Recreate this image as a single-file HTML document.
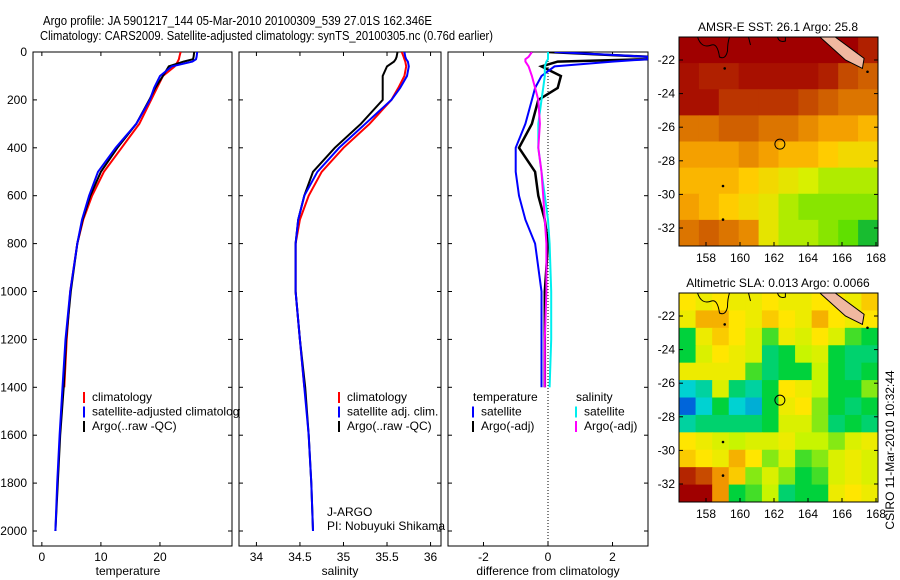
<!DOCTYPE html>
<html><head><meta charset="utf-8"><style>
body{margin:0;background:#fff;}
svg{display:block;font-family:"Liberation Sans",sans-serif;font-size:12px;}
</style></head><body>
<svg id="fig" width="900" height="580" viewBox="0 0 900 580">
<defs>
<clipPath id="c1"><rect x="33" y="52" width="199" height="494"/></clipPath>
<clipPath id="c2"><rect x="239" y="52" width="202" height="494"/></clipPath>
<clipPath id="c3"><rect x="448" y="52" width="200" height="494"/></clipPath>
<clipPath id="m1"><rect x="679" y="37" width="199" height="209"/></clipPath>
<clipPath id="m2"><rect x="679" y="293" width="199" height="209"/></clipPath>
<clipPath id="lg1"><rect x="0" y="0" width="240" height="580"/></clipPath>
<clipPath id="lg2"><rect x="0" y="0" width="447" height="580"/></clipPath>
</defs>
<text x="43" y="25" font-size="13" textLength="389" lengthAdjust="spacingAndGlyphs">Argo profile: JA 5901217_144 05-Mar-2010 20100309_539 27.01S 162.346E</text>
<text x="40" y="40" font-size="13" textLength="453" lengthAdjust="spacingAndGlyphs">Climatology: CARS2009. Satellite-adjusted climatology: synTS_20100305.nc (0.76d earlier)</text>
<g id="g1"></g>
<g id="g2"></g>
<g id="g3"></g>
<g id="gm1"></g>
<g id="gm2"></g>
<text x="128" y="575" text-anchor="middle">temperature</text>
<text x="340" y="575" text-anchor="middle">salinity</text>
<text x="548" y="575" text-anchor="middle">difference from climatology</text>
<text x="778" y="31" text-anchor="middle">AMSR-E SST: 26.1 Argo: 25.8</text>
<text x="778" y="287" text-anchor="middle">Altimetric SLA: 0.013 Argo: 0.0066</text>
<text transform="translate(894,450) rotate(-90)" text-anchor="middle">CSIRO 11-Mar-2010 10:32:44</text>
<g clip-path="url(#lg2)">
<text x="327" y="516">J-ARGO</text>
<text x="327" y="530">PI: Nobuyuki Shikama</text>
</g>
</svg>
<script>
const NS="http://www.w3.org/2000/svg";
const depths=[0,20,30,40,60,100,150,200,300,400,500,600,700,800,1000,1200,1400,1600,1800,2000];
const tClim=[23.5,23.3,23.2,23,22.5,20.5,19.5,18.5,16.5,13.5,10.5,8.5,7,6,4.8,4.2,3.8,null,null,null];
const tSat=[26.3,26.2,26.1,25.5,22,20,19,18.3,16,12.5,9.5,8,6.8,6,4.8,4,3.5,3,2.6,2.3];
const tArgo=[25.8,25.7,25.6,24,21.5,20.5,19.2,18.2,16,12.8,10,8.2,6.9,6,4.9,4.1,3.7,3.1,2.7,2.3];
const sClim=[35.67,35.69,35.7,35.71,35.72,35.7,35.63,35.55,35.3,35.0,34.75,34.6,34.5,34.45,34.45,34.5,34.55,null,null,null];
const sSat=[35.7,35.71,35.72,35.74,35.75,35.73,35.65,35.55,35.25,34.95,34.7,34.55,34.48,34.45,34.45,34.5,34.55,34.6,34.63,34.65];
const sArgo=[35.62,35.61,35.6,35.58,35.5,35.45,35.45,35.45,35.2,34.9,34.65,34.55,34.48,34.45,34.45,34.5,34.56,34.6,34.63,34.65];
const dTSat=[0.2,3.1,3.1,2.0,0.2,-0.2,-0.4,-0.5,-0.7,-1.0,-1.0,-0.9,-0.7,-0.4,-0.2,-0.2,-0.2,null,null,null];
const dTArgo=[0.0,3.1,3.1,0.3,-0.2,0.4,0.3,-0.3,-0.5,-0.9,-0.4,-0.3,-0.1,0,-0.1,-0.1,-0.1,null,null,null];
const dSSat=[0,0,0,-0.05,-0.1,-0.1,-0.15,-0.2,-0.3,-0.3,-0.2,-0.1,0,0.05,0.1,0.1,0.05,null,null,null];
const dSArgo=[-0.5,-0.6,-0.7,-0.7,-0.6,-0.5,-0.4,-0.3,-0.25,-0.3,-0.2,-0.15,-0.1,-0.05,-0.05,-0.1,-0.1,null,null,null];
const depthTicks=[0,200,400,600,800,1000,1200,1400,1600,1800,2000];
const tTicks=[0,10,20];const sTicks=[34,34.5,35,35.5,36];const sTickLabels=["34","34.5","35","35.5","36"];
const dTicks=[-2,0,2];
const lonTicks=[158,160,162,164,166,168];const latTicks=[-22,-24,-26,-28,-30,-32];
const sstGrid=[
[1,1,1,1,1,1,1,1,1,.9],
[.95,.9,.9,.95,.95,.95,.95,.9,.8,.75],
[.95,.95,.85,.85,.85,.85,.8,.75,.7,.7],
[.7,.7,.75,.75,.7,.7,.65,.6,.6,.55],
[.6,.6,.6,.65,.6,.55,.55,.5,.45,.45],
[.55,.55,.55,.5,.45,.4,.35,.3,.3,.3],
[.6,.55,.5,.45,.4,.3,.25,.25,.25,.25],
[.7,.75,.7,.65,.4,.3,.3,.25,.2,.05]];
const slaGrid=[
[.3,.2,.3,.2,.2,.3,.2,.2,.3,.3,.2,.4],
[.2,.5,.5,.3,.2,.4,.3,.2,.5,.3,.2,.3],
[-.3,.2,.4,.3,.1,-.2,.2,.1,.3,.1,-.2,-.3],
[-.3,.1,.3,.2,.1,-.4,-.3,0,.1,-.3,-.4,-.4],
[.2,.2,.2,.2,-.2,-.4,-.3,-.3,0,-.3,-.4,-.3],
[-.6,-.5,.1,-.4,-.5,-.3,.3,.2,0,-.3,-.3,-.1],
[-.9,-.6,-.3,-.6,-.7,-.3,.2,.3,-.1,-.3,-.4,-.3],
[-.5,-.4,-.4,-.4,-.4,-.3,.1,.1,-.1,-.4,-.3,-.4],
[.3,.2,.1,0,.1,.1,.2,0,0,-.1,.1,.2],
[.4,.3,.2,.5,.3,-.1,.1,-.2,-.1,.1,.2,.1],
[.9,.8,.6,.4,-.1,.1,-.1,-.3,-.2,.1,.2,.1],
[1,1,.6,-.3,-.2,0,-.4,-.3,-.3,.2,.3,.2]];
const argoLon=162.346, argoLat=-27.01;

function el(t,a,p){const e=document.createElementNS(NS,t);for(const k in a)e.setAttribute(k,a[k]);p.appendChild(e);return e;}
const yD=d=>52+d*(479/2000);
function panel(g,x0,x1,xmin,xmax,ticks,labels,showY,clip){
  const xs=v=>x0+(v-xmin)/(xmax-xmin)*(x1-x0);
  const r=el('rect',{x:x0,y:52,width:x1-x0,height:494,fill:'none',stroke:'#000'},g);
  
  
  depthTicks.forEach(d=>{const y=yD(d);
    el('line',{x1:x0,x2:x0+4,y1:y,y2:y,stroke:'#000'},g);el('line',{x1:x1-4,x2:x1,y1:y,y2:y,stroke:'#000'},g);
    if(showY){const t=el('text',{x:x0-6,y:y+4,'text-anchor':'end'},g);t.textContent=d;
      
      }});
  ticks.forEach((v,i)=>{const x=xs(v);
    el('line',{x1:x,x2:x,y1:546,y2:542,stroke:'#000'},g);el('line',{x1:x,x2:x,y1:52,y2:56,stroke:'#000'},g);
    const t=el('text',{x:x,y:561,'text-anchor':'middle'},g);t.textContent=labels[i];
    
    });
  return xs;
}
function line(g,xs,vals,col,w,name,clip){
  let d='';let pen=false;
  vals.forEach((v,i)=>{if(v===null){pen=false;return;}d+=(pen?'L':'M')+xs(v).toFixed(1)+' '+yD(depths[i]).toFixed(1);pen=true;});
  const p=el('path',{d:d,fill:'none',stroke:col,'stroke-width':w,'clip-path':'url(#'+clip+')'},g);
  
  
}
function legend(g,x,y,items,clip){
  const gg=el('g',{'clip-path':clip?'url(#'+clip+')':''},g);
  
  
  items.forEach((it,i)=>{const yy=y+i*14.5;
    if(it[0])el('line',{x1:x,x2:x,y1:yy-9,y2:yy+2,stroke:it[0],'stroke-width':2},gg);
    const t=el('text',{x:x+(it[0]?8:0),y:yy},gg);t.textContent=it[1];
    
    });
}
const g1=document.getElementById('g1'),g2=document.getElementById('g2'),g3=document.getElementById('g3');
const x1=panel(g1,33,232,-1.5,32.2,tTicks,tTicks.map(String),true,'c1');
line(g1,x1,tClim,'#f00',2,'climatology-temperature-line','c1');
line(g1,x1,tArgo,'#000',2,'argo-temperature-line','c1');
line(g1,x1,tSat,'#00f',2,'satellite-temperature-line','c1');
legend(g1,84,401,[['#f00','climatology'],['#00f','satellite-adjusted climatology'],['#000','Argo(..raw -QC)']],'lg1');
const x2=panel(g2,239,441,33.8,36.12,sTicks,sTickLabels,false,'c2');
line(g2,x2,sClim,'#f00',2,'climatology-salinity-line','c2');
line(g2,x2,sArgo,'#000',2,'argo-salinity-line','c2');
line(g2,x2,sSat,'#00f',2,'satellite-salinity-line','c2');
legend(g2,339,401,[['#f00','climatology'],['#00f','satellite adj. clim.'],['#000','Argo(..raw -QC)']]);
const x3=panel(g3,448,648,-3.1,3.1,dTicks,dTicks.map(String),false,'c3');
el('line',{x1:x3(0),x2:x3(0),y1:52,y2:546,stroke:'#000','stroke-dasharray':'1 2'},g3);
line(g3,x3,dTArgo,'#000',2.5,'argo-temp-diff-line','c3');
line(g3,x3,dTSat,'#00f',2,'satellite-temp-diff-line','c3');
line(g3,x3,dSSat,'#0ee',2,'satellite-sal-diff-line','c3');
line(g3,x3,dSArgo,'#f0f',2,'argo-sal-diff-line','c3');
legend(g3,473,401,[[null,'temperature'],['#00f','satellite'],['#000','Argo(-adj)']]);
legend(g3,576,401,[[null,'salinity'],['#0ee','satellite'],['#f0f','Argo(-adj)']]);

function lerpCol(stops,v){for(let i=1;i<stops.length;i++){if(v<=stops[i][0]||i==stops.length-1){const a=stops[i-1],b=stops[i];let t=(v-a[0])/(b[0]-a[0]);t=Math.max(0,Math.min(1,t));
  const c=a[1].map((q,k)=>Math.round(q+(b[1][k]-q)*t));return 'rgb('+c.join(',')+')';}}}
const sstStops=[[0,[0,176,64]],[.2,[96,224,0]],[.35,[216,240,0]],[.5,[255,204,0]],[.6,[244,160,0]],[.75,[208,96,0]],[.9,[176,32,0]],[1,[160,0,0]]];
const slaStops=[[-1,[0,64,220]],[-.6,[0,210,210]],[-.3,[0,210,60]],[0,[200,245,0]],[.3,[255,230,0]],[.6,[240,150,0]],[1,[160,0,0]]];
function map(g,y0,grid,stops,clip){
  const lx=v=>706+(v-158)*17, ly=v=>y0+23+(-22-v)*16.8;
  const W=199,H=209,rows=grid.length,cols=grid[0].length;
  const cg=el('g',{'clip-path':'url(#'+clip+')'},g);
  grid.forEach((row,r)=>row.forEach((v,c)=>{
    const rc=el('rect',{x:679+c*W/cols,y:y0+r*H/rows,width:W/cols+0.6,height:H/rows+0.6,fill:lerpCol(stops,v)},cg);
    
    }));
  const land=el('path',{d:`M${lx(164.7)} ${y0} L${lx(165.6)} ${y0} L${lx(167.3)} ${ly(-21.9)} L${lx(167.2)} ${ly(-22.5)} L${lx(166.2)} ${ly(-22)} Z`,fill:'#f0b8a0',stroke:'#000'},cg);
  
  
  el('path',{d:`M${lx(157.5)} ${y0} q4 12 14 8 q6 -2 8 12 q6 3 8 -6 q0 -8 2 -14 M${lx(160.5)} ${y0} l2 8 M${lx(162.2)} ${y0} q2 6 8 4 l0 -4`,fill:'none',stroke:'#000'},cg);
  [[159,-29.5],[159,-31.5],[167.5,-22.7],[159.1,-22.5]].forEach(p=>el('circle',{cx:lx(p[0]),cy:ly(p[1]),r:1.3,fill:'#000'},cg));
  const c=el('circle',{cx:lx(argoLon),cy:ly(argoLat),r:5,fill:'none',stroke:'#000'},g);
  
  
  const fr=el('rect',{x:679,y:y0,width:W,height:H,fill:'none',stroke:'#000'},g);
  
  
  lonTicks.forEach(v=>{const x=lx(v);el('line',{x1:x,x2:x,y1:y0+H,y2:y0+H-4,stroke:'#000'},g);
    const t=el('text',{x:x,y:y0+H+16,'text-anchor':'middle'},g);t.textContent=v;
    
    });
  latTicks.forEach(v=>{const y=ly(v);el('line',{x1:679,x2:683,y1:y,y2:y,stroke:'#000'},g);el('line',{x1:874,x2:878,y1:y,y2:y,stroke:'#000'},g);
    const t=el('text',{x:675,y:y+4,'text-anchor':'end'},g);t.textContent=v;
    
    });
}
map(document.getElementById('gm1'),37,sstGrid,sstStops,'m1');
map(document.getElementById('gm2'),293,slaGrid,slaStops,'m2');
</script>
</body></html>
